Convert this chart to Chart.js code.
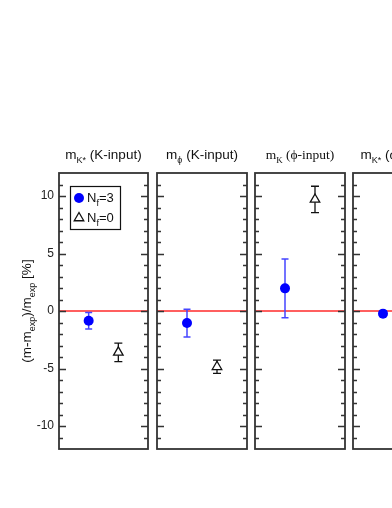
<!DOCTYPE html>
<html>
<head>
<meta charset="utf-8">
<script src="https://cdn.jsdelivr.net/npm/chart.js@4.4.1/dist/chart.umd.min.js"></script>
<style>
  html, body { margin: 0; padding: 0; overflow: hidden; background: #fff; width: 392px; height: 508px; }
  canvas { position: absolute; top: 0; }
</style>
</head>
<body>
<script>
// data
const panelTitles = ["m_{K*} (K-input)", "m_{ϕ} (K-input)", "m_{K} (ϕ-input)", "m_{K*} (ϕ-input)"];
const seriesNames = ["N_{f}=3", "N_{f}=0"];
const nf3Values = [-0.85, -1.05, 1.97, -0.23];
const nf3Errors = [0.72, 1.2, 2.55, 0.2];
const nf0Values = [-3.6, -4.85, 9.7, null];
const nf0Errors = [0.8, 0.57, 1.15, null];
const yTicks = [-10, -5, 0, 5, 10];
const yLabel = "(m-m_{exp})/m_{exp} [%]";

const SANS = "'Liberation Sans', Arial, sans-serif";
const SERIF = "'Liberation Serif', 'Times New Roman', serif";
const AXIS = "#333";

// canvas placement for each panel
const layout = [
  { left: 0,   w: 150, pl: 0, pr: 2 },
  { left: 150, w: 100, pl: 7, pr: 3 },
  { left: 248, w: 100, pl: 7, pr: 3 },
  { left: 346, w: 100, pl: 7, pr: 3 }
];

function parseRich(str) {
  let parts = [];
  str.split(/(_\{[^}]*\})/).forEach(s => {
    if (!s) return;
    if (s.startsWith("_{")) parts.push({ t: s.slice(2, -1), sub: true });
    else parts.push({ t: s, sub: false });
  });
  return parts;
}

function drawRich(ctx, str, x, y, size, family, align) {
  let parts = parseRich(str);
  let subSize = Math.round(size * 0.7);
  let total = 0;
  parts.forEach(p => {
    ctx.font = (p.sub ? subSize : size) + "px " + family;
    p.w = ctx.measureText(p.t).width;
    total += p.w;
  });
  let cx = align === "center" ? x - total / 2 : x;
  ctx.textAlign = "left";
  ctx.textBaseline = "alphabetic";
  parts.forEach(p => {
    ctx.font = (p.sub ? subSize : size) + "px " + family;
    ctx.fillText(p.t, cx, p.sub ? y + 4 : y);
    cx += p.w;
  });
}

function errBar(ctx, xs, ys, x, v, e, half) {
  let px = xs.getPixelForValue(x);
  let top = ys.getPixelForValue(v + e), bot = ys.getPixelForValue(v - e);
  ctx.beginPath();
  ctx.moveTo(px, top); ctx.lineTo(px, bot);
  ctx.moveTo(px - half, top); ctx.lineTo(px + half, top);
  ctx.moveTo(px - half, bot); ctx.lineTo(px + half, bot);
  ctx.stroke();
}

const nf3Style = { pointStyle: "circle", radius: 5, borderWidth: 0 };
const nf0Style = { pointStyle: "triangle", radius: 5.5, borderWidth: 1.3 };
const yMinTick = -11, yMaxTick = 11;

function panelPlugin(i) {
  return {
    id: "panel" + i,
    beforeDatasetsDraw(chart) {
      let ctx = chart.ctx, a = chart.chartArea, xs = chart.scales.x, ys = chart.scales.y;
      ctx.save();
      // zero line
      let y0 = ys.getPixelForValue(0);
      ctx.strokeStyle = "#ff2a2a"; ctx.lineWidth = 1.3;
      ctx.beginPath(); ctx.moveTo(a.left, y0); ctx.lineTo(a.right, y0); ctx.stroke();
      // error bars
      ctx.strokeStyle = "#4646ff"; ctx.lineWidth = 1.5;
      errBar(ctx, xs, ys, 1, nf3Values[i], nf3Errors[i], 3.5);
      if (nf0Values[i] !== null) {
        ctx.strokeStyle = "#111"; ctx.lineWidth = 1.3;
        errBar(ctx, xs, ys, 2, nf0Values[i], nf0Errors[i], 4);
      }
      ctx.restore();
    },
    afterDraw(chart) {
      let ctx = chart.ctx, a = chart.chartArea, ys = chart.scales.y;
      ctx.save();
      // inward ticks
      ctx.strokeStyle = AXIS; ctx.lineWidth = 1.5;
      ctx.beginPath();
      for (let v = yMinTick; v <= yMaxTick; v++) {
        let py = Math.round(ys.getPixelForValue(v)) + 0.5;
        let len = v % 5 === 0 ? 7 : 4;
        ctx.moveTo(a.left, py); ctx.lineTo(a.left + len, py);
        ctx.moveTo(a.right, py); ctx.lineTo(a.right - len, py);
      }
      ctx.stroke();
      // frame
      ctx.lineWidth = 1.8;
      ctx.strokeRect(a.left, a.top, a.right - a.left, a.bottom - a.top);
      // title
      ctx.fillStyle = "#111";
      drawRich(ctx, panelTitles[i], (a.left + a.right) / 2, 159, 13.5, i === 2 ? SERIF : SANS, "center");
      if (i === 0) {
        // legend
        ctx.strokeStyle = "#111"; ctx.lineWidth = 1.2;
        ctx.strokeRect(a.left + 11.5, a.top + 13.5, 50, 43);
        ctx.fillStyle = "#0000ff";
        Chart.helpers.drawPoint(ctx, nf3Style, a.left + 20, a.top + 25);
        ctx.fillStyle = "#fff"; ctx.strokeStyle = "#111"; ctx.lineWidth = 1.3;
        Chart.helpers.drawPoint(ctx, nf0Style, a.left + 20, a.top + 45);
        ctx.fillStyle = "#111";
        drawRich(ctx, seriesNames[0], a.left + 28, a.top + 29, 13, SANS, "left");
        drawRich(ctx, seriesNames[1], a.left + 28, a.top + 49, 13, SANS, "left");
        // y axis title
        ctx.translate(31, (a.top + a.bottom) / 2);
        ctx.rotate(-Math.PI / 2);
        drawRich(ctx, yLabel, 0, 0, 13.5, SANS, "center");
      }
      ctx.restore();
    }
  };
}

layout.forEach((L, i) => {
  let cv = document.createElement("canvas");
  cv.width = L.w; cv.height = 508;
  cv.style.left = L.left + "px";
  document.body.appendChild(cv);
  let datasets = [{
    label: seriesNames[0],
    data: [{ x: 1, y: nf3Values[i] }],
    pointStyle: "circle", pointRadius: 5,
    pointBackgroundColor: "#0000ff", pointBorderColor: "#0000ff", pointBorderWidth: 0
  }, {
    label: seriesNames[1],
    data: nf0Values[i] === null ? [] : [{ x: 2, y: nf0Values[i] }],
    pointStyle: "triangle", pointRadius: 5.5,
    pointBackgroundColor: "#fff", pointBorderColor: "#111", pointBorderWidth: 1.3
  }];
  let yScale = {
    type: "linear", min: -12, max: 12, display: i === 0,
    grid: { display: false, drawTicks: false }, border: { display: false },
    afterBuildTicks: s => { s.ticks = yTicks.map(v => ({ value: v })); },
    ticks: { padding: 5, color: "#222", font: { family: SANS, size: 12 } }
  };
  if (i === 0) yScale.afterFit = s => { s.width = 59; };
  new Chart(cv.getContext("2d"), {
    type: "scatter",
    data: { datasets },
    options: {
      responsive: false, animation: false, events: [],
      layout: { autoPadding: false, padding: { left: L.pl, right: L.pr, top: 173, bottom: 59 } },
      plugins: { legend: { display: false }, title: { display: false }, tooltip: { enabled: false } },
      scales: {
        x: { type: "linear", min: 0, max: 3, display: false },
        y: yScale
      }
    },
    plugins: [panelPlugin(i)]
  });
});
</script>
</body>
</html>
